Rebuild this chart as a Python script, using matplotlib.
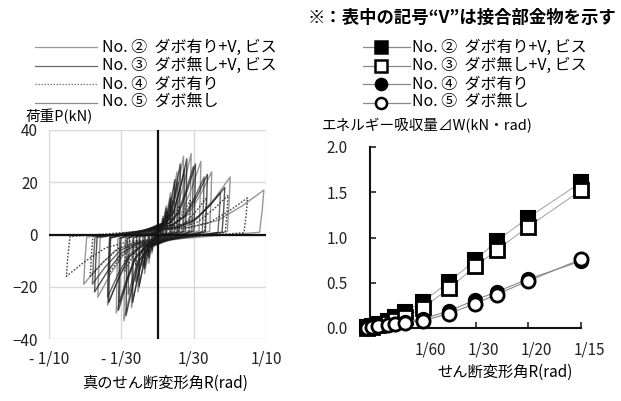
import matplotlib
matplotlib.use("Agg")
import matplotlib.pyplot as plt
from matplotlib.lines import Line2D
from matplotlib.transforms import ScaledTranslation

plt.rcParams['font.family'] = ['Noto Sans CJK JP', 'DejaVu Sans']

# ---- left chart: hysteresis loops, read peaks per cycle (rad, kN) ----
spec_names = ['No. ②  ダボ有り+V, ビス', 'No. ③  ダボ無し+V, ビス', 'No. ④  ダボ有り', 'No. ⑤  ダボ無し']

pos_amp = [
    [0.003, 0.005, 0.008, 0.012, 0.018, 0.024, 0.031, 0.040, 0.050, 0.067, 0.098],
    [0.003, 0.005, 0.008, 0.012, 0.016, 0.021, 0.027, 0.035, 0.046, 0.062],
    [0.004, 0.008, 0.013, 0.020, 0.030, 0.045, 0.065, 0.083],
    [0.003, 0.006, 0.009, 0.014, 0.019, 0.025, 0.033, 0.043, 0.058],
]
pos_peak = [
    [4, 7, 11, 16, 24, 30, 31, 28, 24, 22, 17],
    [4, 6, 10, 14, 21, 27, 29, 27, 23, 18],
    [3, 6, 9, 11, 13, 14, 15, 14],
    [3, 6, 9, 13, 20, 25, 26, 22, 16],
]
neg_amp = [
    [-0.003, -0.005, -0.008, -0.012, -0.018, -0.024, -0.031, -0.038, -0.046, -0.055, -0.068],
    [-0.003, -0.005, -0.008, -0.012, -0.017, -0.023, -0.029, -0.036, -0.045, -0.058, -0.070],
    [-0.004, -0.008, -0.013, -0.020, -0.030, -0.045, -0.062, -0.084],
    [-0.003, -0.006, -0.009, -0.014, -0.020, -0.027, -0.035, -0.046, -0.060],
]
neg_peak = [
    [-4, -7, -11, -15, -22, -28, -33, -30, -27, -24, -19],
    [-4, -6, -9, -13, -20, -26, -31, -29, -26, -22, -20],
    [-3, -6, -9, -12, -14, -15, -16, -16],
    [-3, -5, -8, -12, -18, -23, -26, -24, -19],
]

# shape of one half loop, as fractions of (amplitude, peak)
loop_shape = [(0.0, 0.12), (0.3, 0.16), (0.57, 0.32), (0.8, 0.65), (1.0, 1.0),
              (0.985, 0.55), (0.96, 0.05)]

# ---- right chart: energy absorption ----
r_energy = [-0.001, 0.0006, 0.0025, 0.0057, 0.0078, 0.011, 0.0167, 0.025, 0.0333, 0.04, 0.05, 0.0667]
e_no2 = [0.01, 0.02, 0.04, 0.08, 0.12, 0.18, 0.29, 0.51, 0.75, 0.96, 1.22, 1.61]
e_no3 = [0.0, 0.01, 0.03, 0.06, 0.09, 0.12, 0.22, 0.44, 0.68, 0.86, 1.12, 1.52]
e_no4 = [0.0, 0.01, 0.02, 0.03, 0.04, 0.07, 0.10, 0.19, 0.31, 0.40, 0.54, 0.74]
e_no5 = [0.0, 0.01, 0.02, 0.03, 0.04, 0.06, 0.08, 0.16, 0.27, 0.37, 0.52, 0.76]

W, H = 621, 401
fig = plt.figure(figsize=(W / 100, H / 100), dpi=100)


def fx(px):
    return px / W


def fy(py):
    return 1 - py / H


# ---------------- left axes ----------------
ax1 = fig.add_axes([fx(49), fy(339), fx(266) - fx(49), fy(130) - fy(339)])
ax1.set_xlim(-0.1, 0.1)
ax1.set_ylim(-40, 40)
ax1.set_xticks([-0.1, -1 / 30, 1 / 30, 0.1])
ax1.set_xticklabels(['- 1/10', '- 1/30', '1/30', '1/10'])
ax1.set_yticks([-40, -20, 0, 20, 40])
ax1.tick_params(length=0, labelsize=11, pad=8, colors='#222222')
ax1.grid(True, color='#d8d8d8', lw=1)
for s in ax1.spines.values():
    s.set_visible(False)

styles = [
    dict(color='#8c8c8c', lw=1.0, ls='-', alpha=0.9),
    dict(color='#111111', lw=1.0, ls='-', alpha=0.72),
    dict(color='#333333', lw=1.0, ls=(0, (1.2, 1.2)), alpha=0.9),
    dict(color='#1a1a1a', lw=1.0, ls='-', alpha=0.65),
]

for k in range(4):
    for i in range(len(pos_amp[k])):
        xs = [pos_amp[k][i] * a for a, b in loop_shape]
        ys = [pos_peak[k][i] * b for a, b in loop_shape]
        if i < len(neg_amp[k]):
            xs += [neg_amp[k][i] * a for a, b in loop_shape]
            ys += [neg_peak[k][i] * b for a, b in loop_shape]
            xs.append(xs[0])
            ys.append(ys[0])
        ax1.plot(xs, ys, **styles[k])

ax1.axhline(0, color='#111111', lw=1.6)
ax1.axvline(0, color='#111111', lw=1.6)

fig.text(fx(26), fy(116), '荷重P(kN)', fontsize=10.5, va='center', ha='left')
fig.text(fx(165), fy(383), '真のせん断変形角R(rad)', fontsize=11, va='center', ha='center')

# left legend
leg_line = ['#9a9a9a', '#6a6a6a', '#7a7a7a', '#8a8a8a']
for j, name in enumerate(spec_names):
    y = fy(47 + j * 18.5)
    fig.add_artist(Line2D([fx(35), fx(97)], [y, y], transform=fig.transFigure,
                          color=leg_line[j], lw=0.9, ls=styles[j]['ls']))
    fig.text(fx(102), y, name, fontsize=11.5, va='center', ha='left')

# ---------------- right axes ----------------
ax2 = fig.add_axes([fx(370), fy(328), fx(581) - fx(370), fy(147) - fy(328)])
ax2.set_xlim(0, 1 / 15)
ax2.set_ylim(0, 2.0)
ax2.set_xticks([1 / 60, 1 / 30, 1 / 20, 1 / 15])
ax2.set_xticklabels(['1/60', '1/30', '1/20', '1/15'])
ax2.set_yticks([0, 0.5, 1.0, 1.5, 2.0])
ax2.set_yticklabels(['0.0', '0.5', '1.0', '1.5', '2.0'])
ax2.tick_params(direction='in', length=4, width=1.2, labelsize=11, colors='#222222')
ax2.tick_params(axis='x', pad=10)
ax2.tick_params(axis='y', pad=16)
for lab in ax2.get_xticklabels():
    lab.set_transform(lab.get_transform() + ScaledTranslation(0.08, 0, fig.dpi_scale_trans))
for s in ['top', 'right']:
    ax2.spines[s].set_visible(False)
for s in ['left', 'bottom']:
    ax2.spines[s].set_linewidth(1.5)
    ax2.spines[s].set_color('#111111')

ms = 9.5
ax2.plot(r_energy, e_no2, '-s', color='#aaaaaa', lw=0.8, mfc='black', mec='black', ms=ms, mew=1.5, clip_on=False, zorder=3)
ax2.plot(r_energy, e_no3, '-s', color='#aaaaaa', lw=0.8, mfc='white', mec='black', ms=ms, mew=2.0, clip_on=False, zorder=4)
ax2.plot(r_energy, e_no4, '-o', color='#888888', lw=0.8, mfc='black', mec='black', ms=ms, mew=1.5, clip_on=False, zorder=5)
ax2.plot(r_energy, e_no5, '-o', color='#888888', lw=0.8, mfc='white', mec='black', ms=ms, mew=2.0, clip_on=False, zorder=6)

fig.text(fx(322), fy(126), 'エネルギー吸収量⊿W(kN・rad)', fontsize=10.5, va='center', ha='left')
fig.text(fx(505), fy(372), 'せん断変形角R(rad)', fontsize=11, va='center', ha='center')

# right legend
marks = [('s', 'black'), ('s', 'white'), ('o', 'black'), ('o', 'white')]
for j, name in enumerate(spec_names):
    y = fy(47 + j * 18.5)
    fig.add_artist(Line2D([fx(363), fx(410)], [y, y], transform=fig.transFigure,
                          color='#888888', lw=0.9))
    fig.add_artist(Line2D([fx(381)], [y], transform=fig.transFigure, marker=marks[j][0],
                          mfc=marks[j][1], mec='black', ms=8, mew=1.8, ls='none'))
    fig.text(fx(412), y, name, fontsize=11.5, va='center', ha='left')

fig.text(fx(616), fy(18), '※：表中の記号“V”は接合部金物を示す', fontsize=12.5,
         va='center', ha='right', fontweight='bold')

fig.savefig('out.png', dpi=100, facecolor='white')
